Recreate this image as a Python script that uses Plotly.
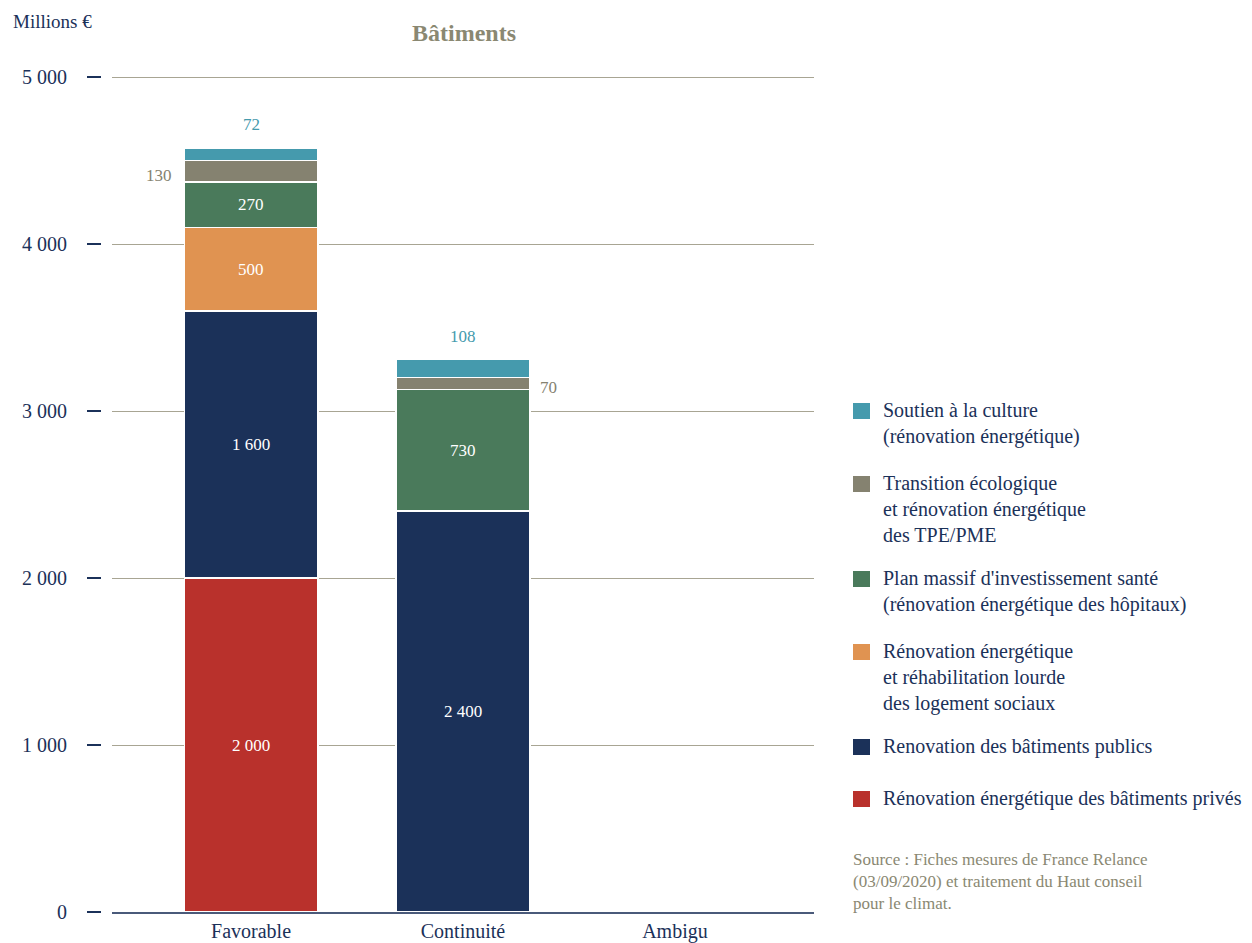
import plotly.graph_objects as go

categories = ["Favorable", "Continuité", "Ambigu"]

series_names = [
    "Rénovation énergétique des bâtiments privés",
    "Renovation des bâtiments publics",
    "Rénovation énergétique<br>et réhabilitation lourde<br>des logement sociaux",
    "Plan massif d'investissement santé<br>(rénovation énergétique des hôpitaux)",
    "Transition écologique<br>et rénovation énergétique<br>des TPE/PME",
    "Soutien à la culture<br>(rénovation énergétique)",
]
prives = [2000, 0, 0]
publics = [1600, 2400, 0]
logements = [500, 0, 0]
sante = [270, 730, 0]
tpe_pme = [130, 70, 0]
culture = [72, 108, 0]
series_values = [prives, publics, logements, sante, tpe_pme, culture]

series_colors = ["#B9312C", "#1B3159", "#E09351", "#4A7A5B", "#858270", "#459AAD"]

# label placement per (series index, category index)
label_specs = [
    (0, 0, "inside"), (1, 0, "inside"), (2, 0, "inside"), (3, 0, "inside"),
    (4, 0, "left"), (5, 0, "above"),
    (1, 1, "inside"), (3, 1, "inside"), (4, 1, "right"), (5, 1, "above"),
]

y_ticks = [0, 1000, 2000, 3000, 4000, 5000]

FONT = "Liberation Serif"
NAVY = "#1B3159"
BAR_W = 0.63

# page offset (body margin) and figure geometry
OFF = 8
W, H = 1252 - OFF, 943 - OFF
PLOT_TOP, PLOT_BOT = 75, 912          # screen pixels of the plot area
PLOT_H = PLOT_BOT - PLOT_TOP
Y_MAX = 5000 * PLOT_H / 835           # 5000 lands at screen y=77


def px_x(X):
    return (X - OFF) / W


def px_y(Y):
    return (PLOT_BOT - Y) / PLOT_H


def fmt(v):
    return f"{v:,}".replace(",", " ")


fig = go.Figure()
for name, vals, col in zip(series_names, series_values, series_colors):
    fig.add_trace(go.Bar(
        x=categories,
        y=[v if v else None for v in vals],
        name=name,
        marker=dict(color=col, line=dict(color="white", width=1.5)),
        width=BAR_W,
        hoverinfo="skip",
        showlegend=False,
    ))

annotations = []
for si, ci, pos in label_specs:
    base = sum(series_values[k][ci] for k in range(si))
    v = series_values[si][ci]
    col = series_colors[si]
    if pos == "inside":
        annotations.append(dict(x=ci, y=base + v / 2, text=fmt(v), showarrow=False,
                                font=dict(family=FONT, size=17, color="white")))
    elif pos == "above":
        annotations.append(dict(x=ci, y=base + v, text=fmt(v), showarrow=False,
                                yanchor="bottom", yshift=12,
                                font=dict(family=FONT, size=17, color=col)))
    elif pos == "left":
        annotations.append(dict(x=ci - BAR_W / 2, y=base + v / 2, text=fmt(v), showarrow=False,
                                xanchor="right", xshift=-10, yshift=-4,
                                font=dict(family=FONT, size=17, color=col)))
    elif pos == "right":
        annotations.append(dict(x=ci + BAR_W / 2, y=base + v / 2, text=fmt(v), showarrow=False,
                                xanchor="left", xshift=8, yshift=-4,
                                font=dict(family=FONT, size=17, color=col)))

annotations.append(dict(xref="paper", yref="paper", x=px_x(11), y=px_y(21), text="Millions €",
                        showarrow=False, xanchor="left", yanchor="middle",
                        font=dict(family=FONT, size=19, color=NAVY)))
annotations.append(dict(xref="paper", yref="paper", x=px_x(464), y=px_y(33), text="<b>Bâtiments</b>",
                        showarrow=False, xanchor="center", yanchor="middle",
                        font=dict(family=FONT, size=24, color="#8A8872")))
annotations.append(dict(xref="paper", yref="paper", x=px_x(851), y=px_y(848),
                        text="Source : Fiches mesures de France Relance<br>(03/09/2020) et traitement du Haut conseil<br>pour le climat.",
                        showarrow=False, xanchor="left", yanchor="top", align="left",
                        font=dict(family=FONT, size=17, color="#8A8872")))

# manual legend (top to bottom: reverse of stack order)
legend_centers = [799, 747, 652, 579, 484, 411]   # screen y of each item's first line
shapes = []
for name, col, yc in zip(series_names, series_colors, legend_centers):
    shapes.append(dict(type="rect", xref="paper", yref="paper",
                       x0=px_x(853), x1=px_x(870), y0=px_y(yc + 8), y1=px_y(yc - 8),
                       fillcolor=col, line=dict(width=0)))
    annotations.append(dict(xref="paper", yref="paper", x=px_x(881), y=px_y(yc - 14),
                            text=name, showarrow=False, xanchor="left", yanchor="top",
                            align="left", font=dict(family=FONT, size=20, color=NAVY)))

fig.update_layout(
    width=W, height=H,
    margin=dict(l=0, r=0, t=PLOT_TOP - OFF, b=H - (PLOT_BOT - OFF)),
    paper_bgcolor="white", plot_bgcolor="white",
    barmode="stack",
    showlegend=False,
    xaxis=dict(
        domain=[px_x(112), px_x(814)],
        range=[-0.656, 2.656],
        type="category",
        showline=True, linecolor="#4A5A7A", linewidth=2,
        showgrid=False, ticks="",
        tickfont=dict(family=FONT, size=20, color=NAVY),
    ),
    yaxis=dict(
        anchor="free", position=px_x(101),
        range=[0, Y_MAX],
        tickvals=y_ticks, ticktext=[fmt(t) for t in y_ticks],
        ticks="outside", ticklen=14, tickwidth=1.5, tickcolor=NAVY,
        ticklabelstandoff=16,
        showline=False, zeroline=False,
        showgrid=True, gridcolor="#A8A593", gridwidth=1,
        tickfont=dict(family=FONT, size=20, color=NAVY),
    ),
    shapes=shapes,
    annotations=annotations,
    font=dict(family=FONT),
)

fig.write_html("out.html")
